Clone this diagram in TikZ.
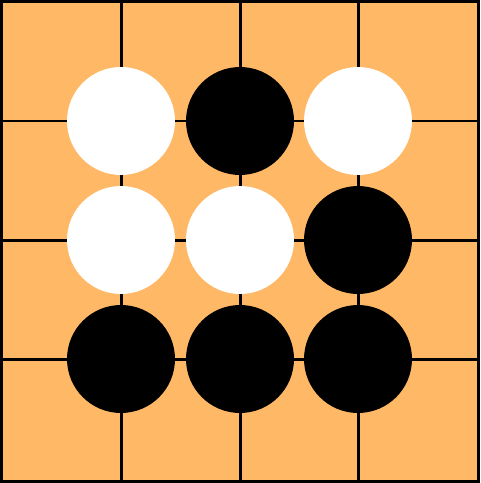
\documentclass[tikz,border=0pt]{standalone}
\usepackage{tikz}
\definecolor{boardcol}{RGB}{255,185,102}

\begin{document}
\begin{tikzpicture}[x=0.02cm,y=-0.02cm,
  gridline/.style={draw=black,line width=0.06cm},
  stone/.style={circle,minimum size=2.16cm,inner sep=0pt},
  white stone/.style={stone,fill=white},
  black stone/.style={stone,fill=black}]
  \useasboundingbox (0,0) rectangle (480,483);
  \fill[boardcol] (0,0) rectangle (480,483);
  % grid
  \foreach \x in {121,240,358}
    \draw[gridline] (\x,0) -- (\x,483);
  \foreach \y in {121,240,359}
    \draw[gridline] (0,\y) -- (480,\y);
  \draw[gridline] (1.5,1.5) rectangle (478.5,481.5);
  % stones
  \node[white stone] (a1) at (121,121) {};
  \node[black stone] (b1) at (240,121) {};
  \node[white stone] (c1) at (358,121) {};
  \node[white stone] (a2) at (121,240) {};
  \node[white stone] (b2) at (240,240) {};
  \node[black stone] (c2) at (358,240) {};
  \node[black stone] (a3) at (121,359) {};
  \node[black stone] (b3) at (240,359) {};
  \node[black stone] (c3) at (358,359) {};
\end{tikzpicture}
\end{document}
